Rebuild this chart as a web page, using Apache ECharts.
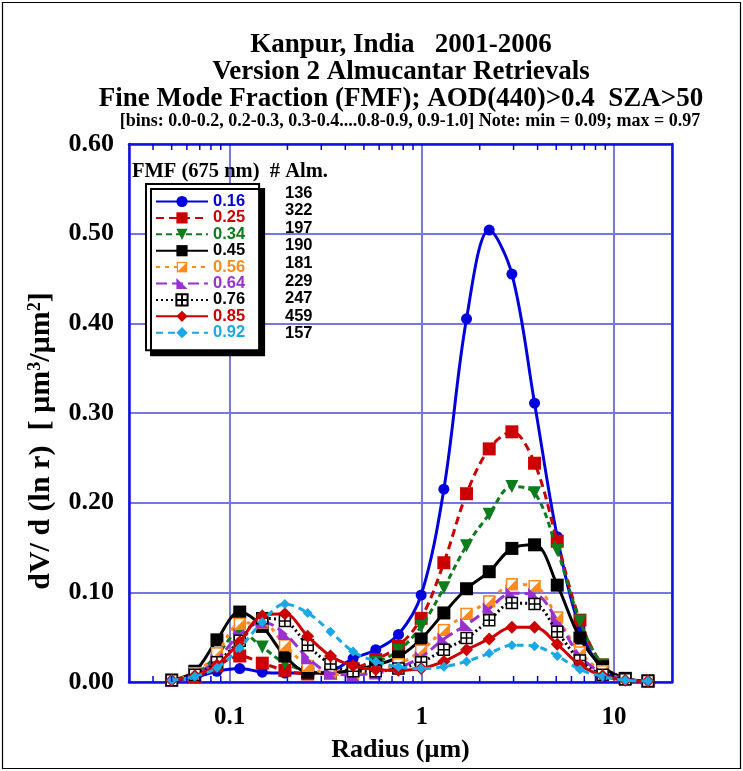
<!DOCTYPE html>
<html><head><meta charset="utf-8">
<script src="https://cdn.jsdelivr.net/npm/echarts@6/dist/echarts.min.js"></script>
<style>html,body{margin:0;padding:0;background:#fff}#c{width:743px;height:771px}</style>
</head><body><div id="c"></div>
<script>
// ---------------- data ----------------
const radius = [0.050,0.066,0.086,0.113,0.148,0.194,0.255,0.335,0.439,0.576,0.756,0.992,1.302,1.708,2.241,2.940,3.857,5.061,6.641,8.713,11.432,15.000];
const fmfNames = ['0.16','0.25','0.34','0.45','0.56','0.64','0.76','0.85','0.92'];
const almCounts = ['136','322','197','190','181','229','247','459','157'];
const v016 = [0.002,0.005,0.012,0.015,0.011,0.010,0.010,0.012,0.026,0.036,0.053,0.097,0.215,0.405,0.504,0.455,0.311,0.162,0.060,0.014,0.003,0.001];
const v025 = [0.002,0.006,0.018,0.029,0.021,0.013,0.009,0.010,0.015,0.025,0.040,0.071,0.133,0.210,0.260,0.279,0.244,0.157,0.069,0.019,0.004,0.001];
const v034 = [0.002,0.008,0.030,0.056,0.039,0.021,0.012,0.010,0.014,0.022,0.035,0.062,0.105,0.152,0.187,0.218,0.211,0.147,0.068,0.019,0.004,0.001];
const v045 = [0.002,0.012,0.047,0.078,0.062,0.029,0.011,0.010,0.013,0.019,0.028,0.048,0.077,0.104,0.123,0.149,0.153,0.108,0.049,0.017,0.004,0.001];
const v056 = [0.002,0.010,0.032,0.065,0.066,0.041,0.018,0.009,0.008,0.012,0.020,0.035,0.058,0.076,0.090,0.109,0.107,0.072,0.033,0.012,0.003,0.001];
const v064 = [0.002,0.008,0.025,0.053,0.067,0.054,0.027,0.010,0.008,0.010,0.016,0.028,0.048,0.064,0.082,0.099,0.098,0.069,0.029,0.010,0.003,0.001];
const v076 = [0.002,0.008,0.022,0.046,0.071,0.068,0.041,0.020,0.012,0.012,0.015,0.022,0.036,0.049,0.069,0.088,0.087,0.056,0.024,0.008,0.003,0.001];
const v085 = [0.002,0.007,0.019,0.045,0.074,0.076,0.051,0.029,0.018,0.014,0.013,0.015,0.023,0.036,0.048,0.061,0.061,0.042,0.019,0.007,0.002,0.001];
const v092 = [0.002,0.006,0.016,0.038,0.067,0.087,0.077,0.056,0.034,0.023,0.017,0.015,0.017,0.023,0.032,0.041,0.040,0.029,0.014,0.006,0.002,0.001];
const minorTickValues = [0.04,0.05,0.06,0.07,0.08,0.09,0.2,0.3,0.4,0.5,0.6,0.7,0.8,0.9,2,3,4,5,6,7,8,9];
const titleLines = ['Kanpur, India   2001-2006','Version 2 Almucantar Retrievals','Fine Mode Fraction (FMF); AOD(440)>0.4  SZA>50'];
const noteLine = '[bins: 0.0-0.2, 0.2-0.3, 0.3-0.4....0.8-0.9, 0.9-1.0] Note: min = 0.09; max = 0.97';

// ---------------- styles ----------------
const values = [v016,v025,v034,v045,v056,v064,v076,v085,v092];
const colors = ['#0000dd','#cc0000','#0b7d1b','#000000','#ff8a1e','#9b30d0','#000000','#cc0000','#1aa8e6'];
const dashes = ['solid',[8,5],[6,4],'solid',[4,5],[11,5],[2,3],'solid',[7,5]];
const halfSq = 'image://data:image/svg+xml;charset=utf-8,' + encodeURIComponent("<svg xmlns='http://www.w3.org/2000/svg' width='24' height='24'><rect x='2' y='2' width='20' height='20' fill='#fff' stroke='#ff8a1e' stroke-width='3'/><polygon points='22,2 22,22 2,22' fill='#ff8a1e'/></svg>");
const symbols = ['circle','rect','triangle',"rect",halfSq,'path://M0,0 L10,10 L0,10 Z','path://M0,0H10V10H0Z M5,0V10 M0,5H10','diamond','diamond'];
const symRot = [0,0,180,0,0,0,0,0,0];
const symSizes = [11,13,13,13,13,13,11,13,10];
const serif = '"Liberation Serif","Times New Roman",serif';
const sans = '"Liberation Sans",Arial,sans-serif';

const series = values.map((vals, i) => {
  const s = {
    name: fmfNames[i], type: 'line', xAxisIndex: 0, yAxisIndex: 0,
    data: radius.map((r, k) => [r, vals[k]]),
    smooth: 0.35,
    symbol: symbols[i], symbolSize: symSizes[i], symbolRotate: symRot[i], symbolKeepAspect: true,
    showAllSymbol: true,
    lineStyle: { color: colors[i], width: 3, type: dashes[i] },
    itemStyle: { color: colors[i] },
    z: 3 + i
  };
  if (i === 6) s.itemStyle = { color: '#ffffff', borderColor: '#000', borderWidth: 1.5 };
  return s;
});

series.push({
  type: 'custom', xAxisIndex: 0, yAxisIndex: 0, silent: true, z: 20,
  data: minorTickValues.map(v => [v, 0]),
  renderItem: function (params, api) {
    const v = api.value(0);
    const b = api.coord([v, 0]);
    const t = api.coord([v, 0.6]);
    const st = { stroke: '#0000dd', lineWidth: 1.5 };
    return { type: 'group', children: [
      { type: 'line', shape: { x1: b[0], y1: b[1], x2: b[0], y2: b[1] - 6 }, style: st },
      { type: 'line', shape: { x1: t[0], y1: t[1], x2: t[0], y2: t[1] + 6 }, style: st }
    ]};
  }
});

const gridColor = '#7777e4';
const axisColor = '#1010e0';

const graphics = [
  { type: 'rect', shape: { x: 2.5, y: 2.5, width: 738, height: 766 }, style: { fill: null, stroke: '#000', lineWidth: 1.2 }, z: 0 }
];
titleLines.forEach((t, i) => graphics.push({
  type: 'text', x: 401, y: 45 + i * 27,
  style: { text: t, font: 'bold 27px ' + serif, fill: '#000', align: 'center', verticalAlign: 'middle' }
}));
graphics.push({ type: 'text', x: 410, y: 121,
  style: { text: noteLine, font: 'bold 18px ' + serif, fill: '#000', align: 'center', verticalAlign: 'middle' } });
graphics.push({ type: 'text', x: 132, y: 172, z: 50,
  style: { text: 'FMF (675 nm)  # Alm.', font: 'bold 20.5px ' + serif, fill: '#000', align: 'left', verticalAlign: 'middle' } });
almCounts.forEach((c, i) => graphics.push({ type: 'text', x: 285, y: 193 + i * 17.6, z: 50,
  style: { text: c, font: 'bold 16.5px ' + sans, fill: '#000', align: 'left', verticalAlign: 'middle' } }));
graphics.push({ type: 'text', x: 41, y: 441, rotation: Math.PI / 2,
  style: { text: 'dV/ d (ln r)  [ µm{s|3}/µm{s|2}]', font: 'bold 30px ' + serif, fill: '#000', align: 'center', verticalAlign: 'middle',
    rich: { s: { font: 'bold 18px ' + serif, verticalAlign: 'top', padding: [0,0,12,0] } } } });

const option = {
  animation: false,
  backgroundColor: '#fff',
  grid: { left: 129, right: 71, top: 144, bottom: 89, containLabel: false },
  xAxis: [
    { type: 'log', logBase: 10, min: 0.03, max: 20, position: 'bottom',
      name: 'Radius (µm)', nameLocation: 'middle', nameGap: 55,
      nameTextStyle: { fontFamily: serif, fontWeight: 'bold', fontSize: 26, color: '#000' },
      axisLine: { show: true, onZero: false, lineStyle: { color: axisColor, width: 2.5 } },
      axisTick: { show: false },
      axisLabel: { showMinLabel: false, showMaxLabel: false, margin: 23, fontFamily: serif, fontWeight: 'bold', fontSize: 25, color: '#000',
        formatter: v => (v >= 1 ? String(Math.round(v)) : String(+v.toPrecision(1))) },
      splitLine: { show: true, lineStyle: { color: gridColor, width: 2 } } },
    { type: 'log', logBase: 10, min: 0.03, max: 20, position: 'top',
      axisLine: { show: true, onZero: false, lineStyle: { color: axisColor, width: 2.5 } },
      axisTick: { show: false }, axisLabel: { show: false }, splitLine: { show: false } }
  ],
  yAxis: [
    { type: 'value', min: 0, max: 0.6, interval: 0.1, position: 'left',
      axisLine: { show: true, onZero: false, lineStyle: { color: axisColor, width: 2.5 } },
      axisTick: { show: false },
      axisLabel: { margin: 15, fontFamily: serif, fontWeight: 'bold', fontSize: 26, color: '#000', formatter: v => v.toFixed(2) },
      splitLine: { show: true, lineStyle: { color: gridColor, width: 2 } } },
    { type: 'value', min: 0, max: 0.6, interval: 0.1, position: 'right',
      axisLine: { show: true, onZero: false, lineStyle: { color: axisColor, width: 2.5 } },
      axisTick: { show: false }, axisLabel: { show: false }, splitLine: { show: false } }
  ],
  legend: {
    orient: 'vertical', left: 146, top: 184,
    data: fmfNames.map((n, i) => ({ name: n, textStyle: { color: colors[i] } })),
    itemWidth: 52, itemHeight: 14, itemGap: -0.6,
    padding: [9, 14, 9, 9],
    backgroundColor: '#fff', borderColor: '#000', borderWidth: 2, borderRadius: 0,
    shadowColor: '#000', shadowOffsetX: 5, shadowOffsetY: 5, shadowBlur: 0,
    textStyle: { fontFamily: sans, fontWeight: 'bold', fontSize: 16.5, padding: [0,0,0,0] },
    selectedMode: false
  },
  graphic: graphics,
  series: series
};
const chart = echarts.init(document.getElementById('c'), null, { renderer: 'canvas' });
chart.setOption(option);
</script></body></html>
